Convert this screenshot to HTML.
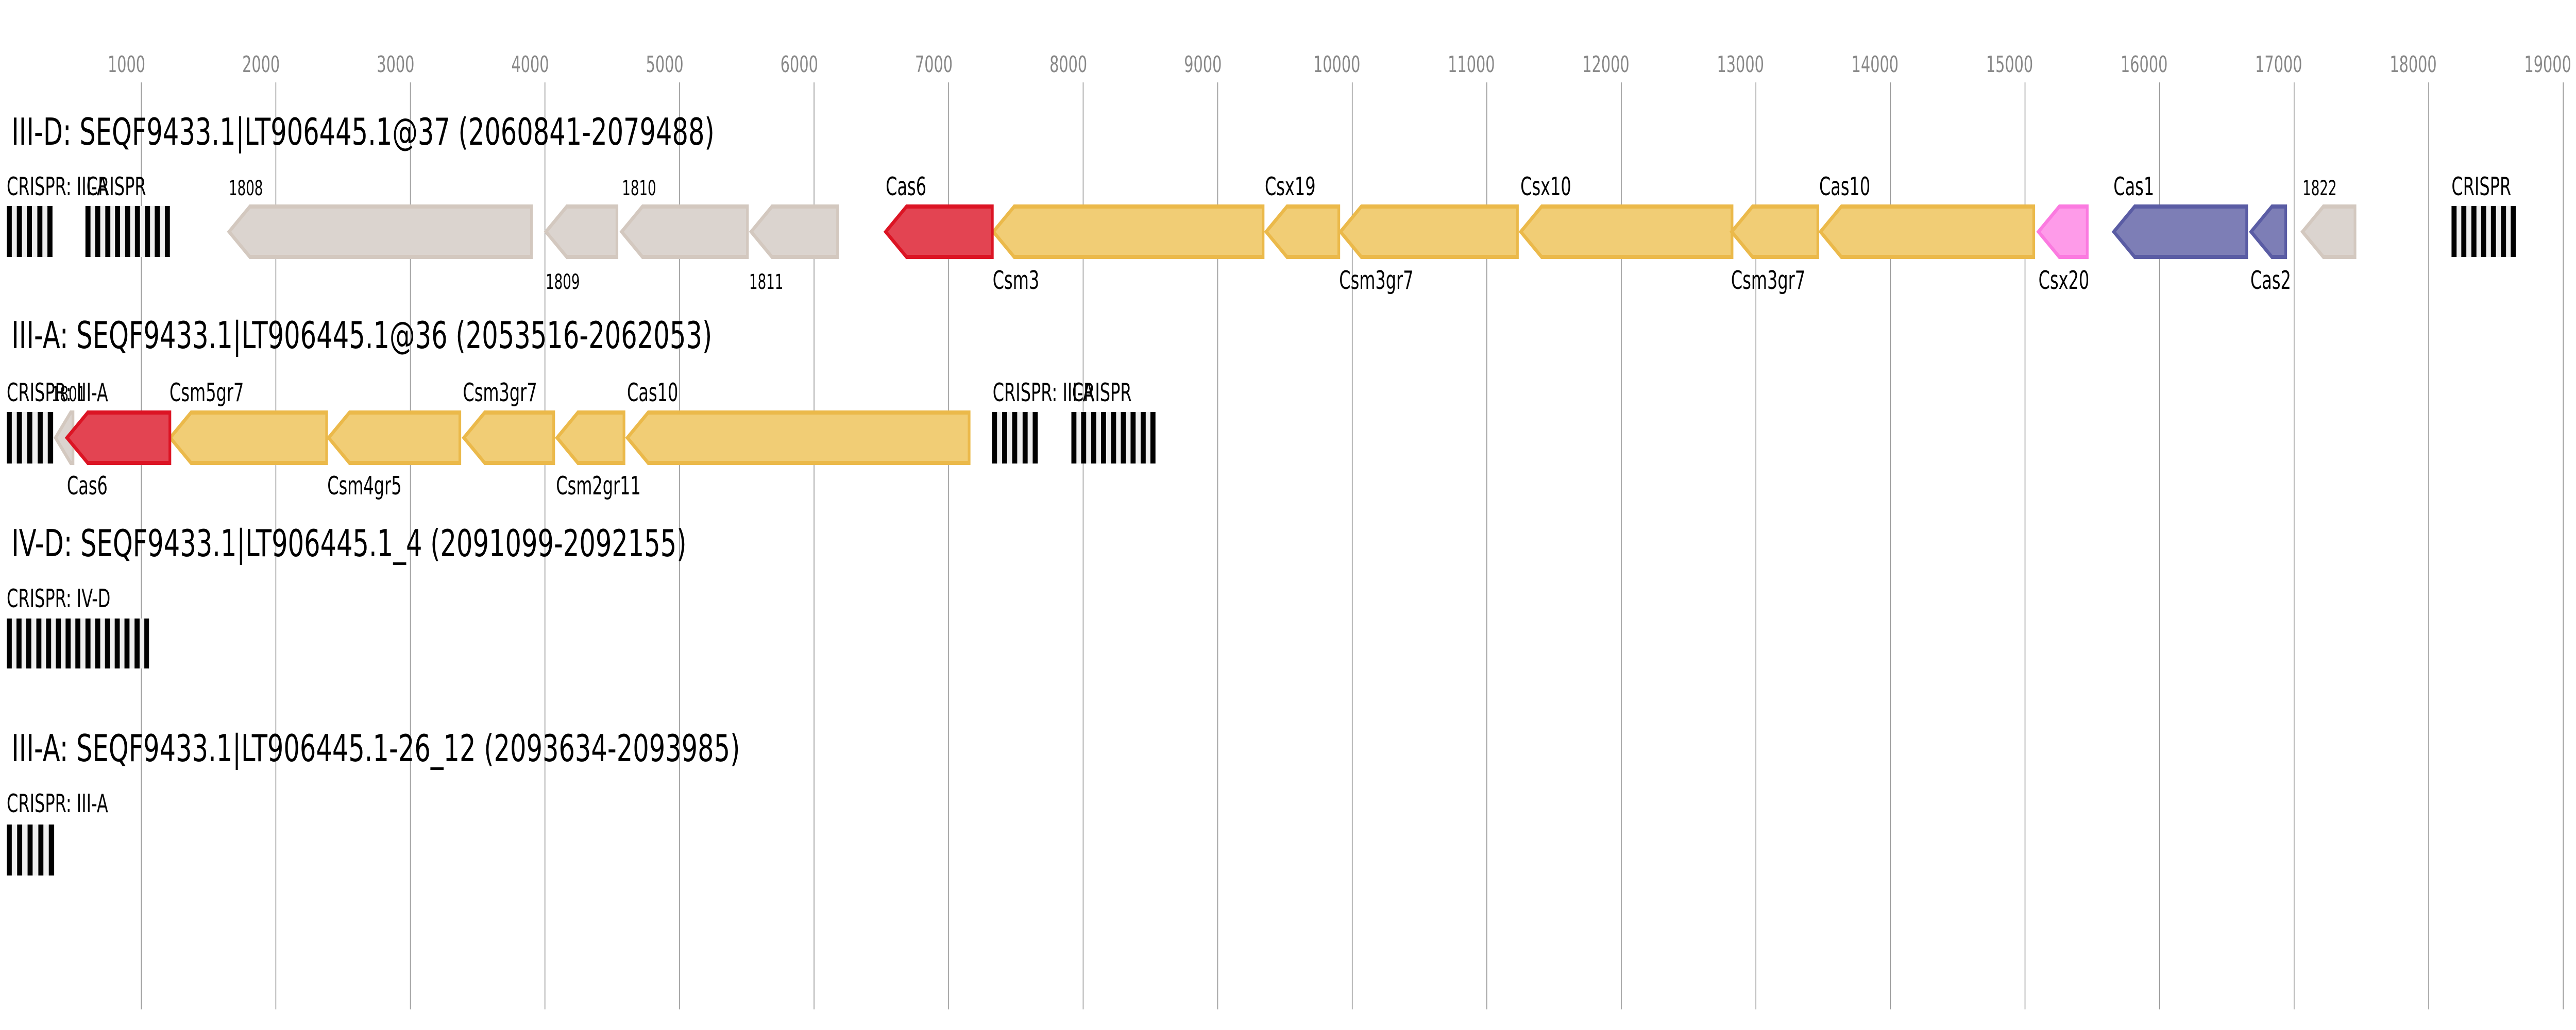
<!DOCTYPE html>
<html><head><meta charset="utf-8">
<style>
html,body{margin:0;padding:0;background:#fff;width:100%;height:100%;overflow:hidden;}
svg{display:block;width:100vw;height:100vh;}
text{font-family:"DejaVu Sans","Liberation Sans",sans-serif;}
</style></head>
<body>
<svg xmlns="http://www.w3.org/2000/svg" viewBox="0 0 7658 2000" preserveAspectRatio="none">
<rect width="7658" height="2000" fill="#fff"/>
<g stroke="#9a9a9a" stroke-width="2.5">
<line x1="420" y1="160" x2="420" y2="1960"/><line x1="820" y1="160" x2="820" y2="1960"/>
<line x1="1220" y1="160" x2="1220" y2="1960"/><line x1="1620" y1="160" x2="1620" y2="1960"/>
<line x1="2020" y1="160" x2="2020" y2="1960"/><line x1="2420" y1="160" x2="2420" y2="1960"/>
<line x1="2820" y1="160" x2="2820" y2="1960"/><line x1="3220" y1="160" x2="3220" y2="1960"/>
<line x1="3620" y1="160" x2="3620" y2="1960"/><line x1="4020" y1="160" x2="4020" y2="1960"/>
<line x1="4420" y1="160" x2="4420" y2="1960"/><line x1="4820" y1="160" x2="4820" y2="1960"/>
<line x1="5220" y1="160" x2="5220" y2="1960"/><line x1="5620" y1="160" x2="5620" y2="1960"/>
<line x1="6020" y1="160" x2="6020" y2="1960"/><line x1="6420" y1="160" x2="6420" y2="1960"/>
<line x1="6820" y1="160" x2="6820" y2="1960"/><line x1="7220" y1="160" x2="7220" y2="1960"/>
<line x1="7620" y1="160" x2="7620" y2="1960"/>
</g>
<g fill="#888" font-size="44" text-anchor="end">
<text x="432" y="140">1000</text><text x="832" y="140">2000</text><text x="1232" y="140">3000</text>
<text x="1632" y="140">4000</text><text x="2032" y="140">5000</text><text x="2432" y="140">6000</text>
<text x="2832" y="140">7000</text><text x="3232" y="140">8000</text><text x="3632" y="140">9000</text>
<text x="4044" y="140">10000</text><text x="4444" y="140">11000</text><text x="4844" y="140">12000</text>
<text x="5244" y="140">13000</text><text x="5644" y="140">14000</text><text x="6044" y="140">15000</text>
<text x="6444" y="140">16000</text><text x="6844" y="140">17000</text><text x="7244" y="140">18000</text>
<text x="7644" y="140">19000</text>
</g>

<g font-size="72" fill="#000">
<text x="34" y="281" textLength="2090" lengthAdjust="spacingAndGlyphs">III-D: SEQF9433.1|LT906445.1@37 (2060841-2079488)</text>
<text x="34" y="676" textLength="2083" lengthAdjust="spacingAndGlyphs">III-A: SEQF9433.1|LT906445.1@36 (2053516-2062053)</text>
<text x="34" y="1080" textLength="2007" lengthAdjust="spacingAndGlyphs">IV-D: SEQF9433.1|LT906445.1_4 (2091099-2092155)</text>
<text x="34" y="1478" textLength="2166" lengthAdjust="spacingAndGlyphs">III-A: SEQF9433.1|LT906445.1-26_12 (2093634-2093985)</text>
</g>

<g fill="#efefef">
<rect x="20" y="400" width="136" height="99"/>
<rect x="254" y="400" width="251" height="99"/>
<rect x="7288" y="400" width="191" height="99"/>
<rect x="20" y="800" width="138" height="100"/>
<rect x="2949" y="800" width="136" height="100"/>
<rect x="3185" y="800" width="250" height="100"/>
<rect x="20" y="1201" width="423" height="97"/>
<rect x="20" y="1601" width="141" height="99"/>
</g>
<g fill="#000">
<rect x="20" y="400" width="15" height="99"/><rect x="50" y="400" width="15" height="99"/><rect x="80" y="400" width="15" height="99"/><rect x="111" y="400" width="15" height="99"/><rect x="141" y="400" width="15" height="99"/>
<rect x="254" y="400" width="15" height="99"/><rect x="283" y="400" width="15" height="99"/><rect x="313" y="400" width="15" height="99"/><rect x="342" y="400" width="15" height="99"/><rect x="372" y="400" width="15" height="99"/><rect x="401" y="400" width="15" height="99"/><rect x="431" y="400" width="15" height="99"/><rect x="460" y="400" width="15" height="99"/><rect x="490" y="400" width="15" height="99"/>
<rect x="7288" y="400" width="15" height="99"/><rect x="7317" y="400" width="15" height="99"/><rect x="7347" y="400" width="15" height="99"/><rect x="7376" y="400" width="15" height="99"/><rect x="7405" y="400" width="15" height="99"/><rect x="7435" y="400" width="15" height="99"/><rect x="7464" y="400" width="15" height="99"/>
<rect x="20" y="800" width="15" height="100"/><rect x="50" y="800" width="15" height="100"/><rect x="81" y="800" width="15" height="100"/><rect x="112" y="800" width="15" height="100"/><rect x="142" y="800" width="16" height="100"/>
<rect x="2949" y="800" width="15" height="100"/><rect x="2979" y="800" width="15" height="100"/><rect x="3009" y="800" width="15" height="100"/><rect x="3040" y="800" width="15" height="100"/><rect x="3070" y="800" width="15" height="100"/>
<rect x="3185" y="800" width="15" height="100"/><rect x="3214" y="800" width="15" height="100"/><rect x="3244" y="800" width="15" height="100"/><rect x="3273" y="800" width="15" height="100"/><rect x="3303" y="800" width="15" height="100"/><rect x="3332" y="800" width="15" height="100"/><rect x="3361" y="800" width="15" height="100"/><rect x="3391" y="800" width="15" height="100"/><rect x="3420" y="800" width="15" height="100"/>
<rect x="20" y="1201" width="15" height="97"/><rect x="49" y="1201" width="15" height="97"/><rect x="78" y="1201" width="15" height="97"/><rect x="108" y="1201" width="15" height="97"/><rect x="137" y="1201" width="15" height="97"/><rect x="166" y="1201" width="15" height="97"/><rect x="195" y="1201" width="15" height="97"/><rect x="224" y="1201" width="15" height="97"/><rect x="254" y="1201" width="15" height="97"/><rect x="283" y="1201" width="15" height="97"/><rect x="312" y="1201" width="15" height="97"/><rect x="341" y="1201" width="15" height="97"/><rect x="370" y="1201" width="15" height="97"/><rect x="400" y="1201" width="15" height="97"/><rect x="429" y="1201" width="14" height="97"/>
<rect x="20" y="1601" width="15" height="99"/><rect x="51" y="1601" width="15" height="99"/><rect x="82" y="1601" width="15" height="99"/><rect x="114" y="1601" width="15" height="99"/><rect x="145" y="1601" width="16" height="99"/>
</g>

<g stroke-width="8" stroke-linejoin="miter">
<g fill="#dbd4cf" stroke="#d3c8bf">
<polygon points="681,450 743,401 1580,401 1580,499 743,499"/>
<polygon points="1623,450 1685,401 1834,401 1834,499 1685,499"/>
<polygon points="1848,450 1910,401 2222,401 2222,499 1910,499"/>
<polygon points="2233,450 2295,401 2490,401 2490,499 2295,499"/>
<polygon points="6845,450 6907,401 7001,401 7001,499 6907,499"/>
</g>
<g fill="#f1cd75" stroke="#ebb94a">
<polygon points="2953,450 3015,401 3755,401 3755,499 3015,499"/>
<polygon points="3764,450 3826,401 3980,401 3980,499 3826,499"/>
<polygon points="3985,450 4047,401 4511,401 4511,499 4047,499"/>
<polygon points="4521,450 4583,401 5149,401 5149,499 4583,499"/>
<polygon points="5148,450 5210,401 5404,401 5404,499 5210,499"/>
<polygon points="5412,450 5474,401 6046,401 6046,499 5474,499"/>
</g>
<g fill="#fe9be9" stroke="#fb7ae0">
<polygon points="6060,450 6122,401 6205,401 6205,499 6122,499"/>
</g>
<g fill="#7d7eb6" stroke="#5a5ca4">
<polygon points="6284,450 6346,401 6679,401 6679,499 6346,499"/>
<polygon points="6692,450 6754,401 6795,401 6795,499 6754,499"/>
</g>
<g fill="#e34452" stroke="#dc1424">
<polygon points="2633,450 2695,401 2950,401 2950,499 2695,499"/>
</g>

<g fill="#dbd4cf" stroke="#d3c8bf">
<polygon points="165,850 210,801 217,801 217,899 210,899"/>
</g>
<g fill="#f1cd75" stroke="#ebb94a">
<polygon points="506,850 568,801 971,801 971,899 568,899"/>
<polygon points="977,850 1039,801 1367,801 1367,899 1039,899"/>
<polygon points="1379,850 1441,801 1646,801 1646,899 1441,899"/>
<polygon points="1656,850 1718,801 1855,801 1855,899 1718,899"/>
<polygon points="1865,850 1927,801 2881,801 2881,899 1927,899"/>
</g>
<g fill="#e34452" stroke="#dc1424">
<polygon points="199,850 261,801 505,801 505,899 261,899"/>
</g>
</g>

<g fill="#000" font-size="49">
<text x="20" y="379">CRISPR: III-A</text>
<text x="257" y="379">CRISPR</text>
<text x="2633" y="379">Cas6</text>
<text x="2951" y="561">Csm3</text>
<text x="3760" y="379">Csx19</text>
<text x="3981" y="561">Csm3gr7</text>
<text x="4520" y="379">Csx10</text>
<text x="5146" y="561">Csm3gr7</text>
<text x="5408" y="379">Cas10</text>
<text x="6060" y="561">Csx20</text>
<text x="6283" y="379">Cas1</text>
<text x="6690" y="561">Cas2</text>
<text x="7288" y="379">CRISPR</text>
<text x="20" y="779">CRISPR: III-A</text>
<text x="199" y="960">Cas6</text>
<text x="504" y="779">Csm5gr7</text>
<text x="973" y="960">Csm4gr5</text>
<text x="1376" y="779">Csm3gr7</text>
<text x="1653" y="960">Csm2gr11</text>
<text x="1864" y="779">Cas10</text>
<text x="2951" y="779">CRISPR: III-A</text>
<text x="3187" y="779">CRISPR</text>
<text x="20" y="1179">CRISPR: IV-D</text>
<text x="20" y="1577">CRISPR: III-A</text>
</g>
<g fill="#000" font-size="40">
<text x="680" y="379">1808</text>
<text x="1622" y="561">1809</text>
<text x="1849" y="379">1810</text>
<text x="2227" y="561">1811</text>
<text x="6845" y="379">1822</text>
<text x="153" y="779">1801</text>
</g>
</svg>
</body></html>
